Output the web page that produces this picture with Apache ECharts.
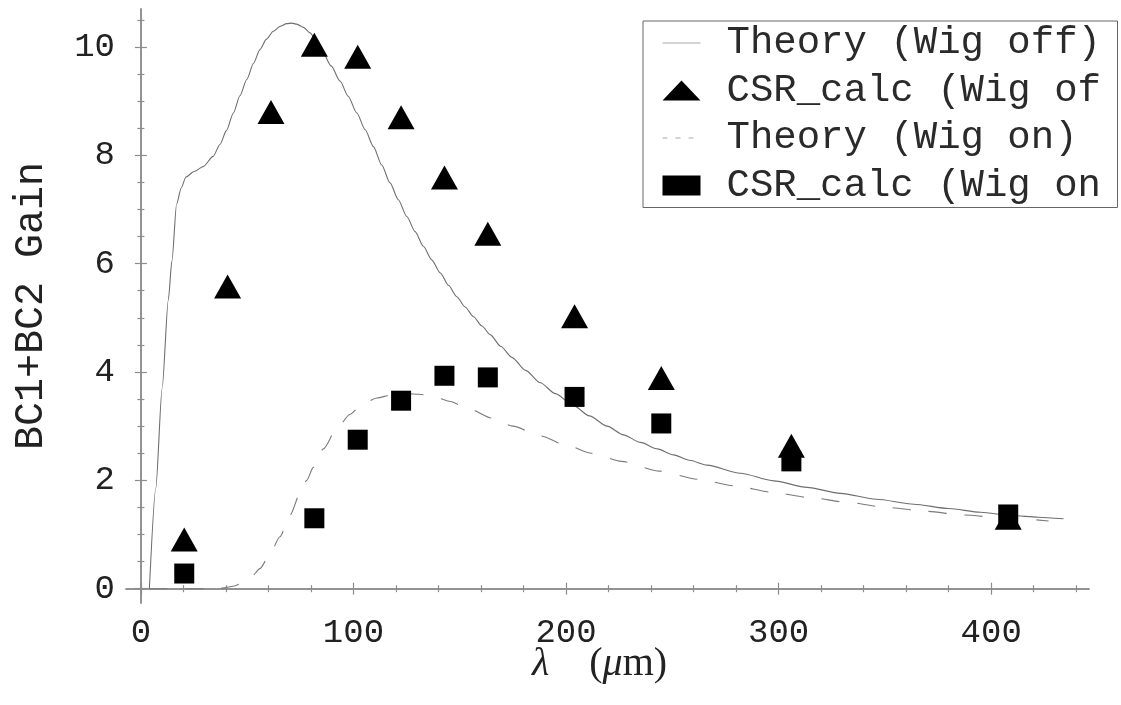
<!DOCTYPE html>
<html>
<head>
<meta charset="utf-8">
<script src="https://cdn.jsdelivr.net/npm/echarts@6/dist/echarts.min.js"></script>
<style>html,body{margin:0;padding:0;background:#fff}#c{width:1121px;height:705px}</style>
</head>
<body>
<div id="c"></div>
<script>
// ---- data ----
const seriesNames = ['Theory (Wig off)', 'CSR_calc (Wig off)', 'Theory (Wig on)', 'CSR_calc (Wig on)'];
const lambdaPts = [20.4, 40.8, 61.2, 81.6, 102, 122.4, 142.8, 163.2, 204, 244.8, 306, 408];
const csrWigOff = [0.91, 5.58, 8.8, 10.04, 9.82, 8.7, 7.59, 6.55, 5.03, 3.89, 2.64, 1.31];
const lambdaSq = [20.4, 81.6, 102, 122.4, 142.8, 163.2, 204, 244.8, 306, 408];
const csrWigOn = [0.28, 1.3, 2.75, 3.47, 3.93, 3.9, 3.54, 3.05, 2.35, 1.37];
const theoryOff = [[4,0],[7,1.85],[10,3.7],[12.9,5.33],[14.6,6.05],[16.8,7.1],[19,7.4],[21.2,7.6],[25,7.7],[29.3,7.79],[34,7.98],[37.2,8.2],[40.3,8.46],[43.5,8.78],[46.6,9.1],[49.8,9.4],[53,9.7],[56,9.95],[59,10.14],[62.3,10.29],[65.5,10.38],[68.6,10.43],[71,10.44],[73.3,10.42],[76.5,10.36],[79.6,10.26],[82.7,10.1],[85.8,9.88],[89.5,9.65],[93.7,9.37],[97.5,9.09],[101.6,8.78],[105.5,8.47],[109.4,8.16],[113.3,7.82],[117.2,7.49],[121.1,7.18],[125.1,6.87],[129,6.59],[132.9,6.32],[136.8,6.07],[140.8,5.83],[144.7,5.6],[148.6,5.39],[152.5,5.2],[156.5,5.02],[160.4,4.85],[164.3,4.69],[169.4,4.47],[174.5,4.27],[181,4.03],[187.9,3.8],[195,3.6],[203.5,3.38],[211,3.19],[219.3,3.0],[227,2.84],[235,2.7],[243,2.58],[250.6,2.47],[258,2.37],[266.3,2.28],[282,2.13],[297.7,1.99],[313.4,1.87],[329.1,1.76],[346,1.65],[363.6,1.56],[380,1.48],[395,1.41],[410,1.35],[422,1.32],[434,1.29]];
const theoryOn = [[4,0],[10,0],[20,0],[30,0],[36,0],[40,0.02],[44,0.05],[48,0.11],[52,0.22],[56,0.37],[60.5,0.62],[65.4,0.96],[70.2,1.36],[74.9,1.76],[78,2.0],[81.1,2.24],[85.8,2.58],[92.1,2.95],[98.4,3.22],[104,3.4],[111,3.52],[118,3.58],[125,3.6],[131,3.59],[137.6,3.55],[145,3.46],[155,3.31],[165,3.15],[175,3.0],[188,2.82],[200,2.65],[212,2.5],[226,2.35],[244,2.17],[262,2.02],[279,1.9],[297,1.78],[315,1.68],[333,1.59],[351,1.5],[369,1.43],[387,1.36],[405,1.31],[427,1.25]];
const xMajorTicks = [0, 100, 200, 300, 400];
const xMinorTicks = [20, 40, 60, 80, 120, 140, 160, 180, 220, 240, 260, 280, 320, 340, 360, 380, 420, 440];
const yMajorTicks = [0, 2, 4, 6, 8, 10];
const yMinorTicks = [0.5, 1, 1.5, 2.5, 3, 3.5, 4.5, 5, 5.5, 6.5, 7, 7.5, 8.5, 9, 9.5, 10.5];
const xName = '{i|λ}    ({i|μ}m)';
const yName = 'BC1+BC2 Gain';

// ---- layout ----
const X_MIN = -7, X_MAX = 446, Y_MIN = -0.264, Y_MAX = 10.70;
const gridRect = { left: 126, top: 9, width: 963, height: 594 };
const frameColor = '#8c8c8c';
const monoFont = 'Liberation Mono';

function xAx(gi, pos, ticks, len, showLine, showLabel) {
  const a = {
    type: 'value', gridIndex: gi, position: pos, min: X_MIN, max: X_MAX,
    axisLine: { show: showLine, lineStyle: { color: frameColor, width: 1.5 } },
    axisTick: { show: true, inside: true, length: len, customValues: ticks, lineStyle: { color: frameColor, width: 1.2 } },
    axisLabel: { show: showLabel, customValues: ticks, margin: 13, fontFamily: monoFont, fontSize: 34, color: '#222' },
    splitLine: { show: false }
  };
  if (showLabel) {
    a.name = xName; a.nameLocation = 'middle'; a.nameGap = 41; a.nameMoveOverlap = false;
    a.nameTextStyle = { fontFamily: 'Liberation Serif', fontSize: 40, color: '#222', padding: [0, 16, 0, 0],
      rich: { i: { fontFamily: 'Liberation Serif', fontSize: 40, fontStyle: 'italic', color: '#222' } } };
  }
  return a;
}
function yAx(gi, pos, ticks, len, showLine, showLabel) {
  const a = {
    type: 'value', gridIndex: gi, position: pos, min: Y_MIN, max: Y_MAX,
    axisLine: { show: showLine, lineStyle: { color: frameColor, width: 1.5 } },
    axisTick: { show: true, inside: true, length: len, customValues: ticks, lineStyle: { color: frameColor, width: 1.2 } },
    axisLabel: { show: showLabel, customValues: ticks, margin: 11, fontFamily: monoFont, fontSize: 34, color: '#222' },
    splitLine: { show: false }
  };
  if (showLabel) {
    a.name = yName; a.nameLocation = 'middle'; a.nameGap = 75;
    a.nameTextStyle = { fontFamily: monoFont, fontSize: 40, color: '#222' };
  }
  return a;
}

const chart = echarts.init(document.getElementById('c'), null, { renderer: 'canvas' });
const hiddenSym = { color: 'rgba(0,0,0,0)', borderWidth: 0, opacity: 0 };
chart.setOption({
  backgroundColor: '#fff',
  animation: false,
  grid: [0, 1, 2, 3].map(() => Object.assign({ containLabel: false }, gridRect)),
  xAxis: [
    xAx(0, 'bottom', xMajorTicks, 6, true, true),
    xAx(1, 'bottom', xMinorTicks, 3.5, false, false),
    xAx(2, 'top', xMajorTicks, 6, true, false),
    xAx(3, 'top', xMinorTicks, 3.5, false, false)
  ],
  yAxis: [
    yAx(0, 'left', yMajorTicks, 6, true, true),
    yAx(1, 'left', yMinorTicks, 3.5, false, false),
    yAx(2, 'right', yMajorTicks, 6, true, false),
    yAx(3, 'right', yMinorTicks, 3.5, false, false)
  ],
  legend: {
    orient: 'vertical', left: 643, top: 21,
    padding: [2, 11, 2, 19], itemGap: 7.5, itemWidth: 38, itemHeight: 20,
    backgroundColor: '#fff', borderColor: '#666', borderWidth: 1,
    textStyle: { fontFamily: monoFont, fontSize: 39, color: '#2a2a2a', lineHeight: 40,
      padding: [0, 0, 0, 21], width: 380, overflow: 'truncate', ellipsis: '' },
    data: [
      { name: seriesNames[0], itemStyle: hiddenSym, lineStyle: { color: '#aaa', width: 1 } },
      { name: seriesNames[1] },
      { name: seriesNames[2], itemStyle: hiddenSym, lineStyle: { color: '#aaa', width: 1, type: [5, 8] } },
      { name: seriesNames[3] }
    ]
  },
  series: [
    { name: seriesNames[0], type: 'line', xAxisIndex: 0, yAxisIndex: 0, data: theoryOff,
      showSymbol: false, symbol: 'none', smooth: 0.25, smoothMonotone: 'x',
      lineStyle: { color: '#6e6e6e', width: 1.1 }, itemStyle: { color: '#6e6e6e' }, z: 2 },
    { name: seriesNames[1], type: 'scatter', xAxisIndex: 0, yAxisIndex: 0,
      data: lambdaPts.map((x, i) => [x, csrWigOff[i]]),
      symbol: 'triangle', symbolSize: [27, 24], itemStyle: { color: '#000', opacity: 1 }, z: 3 },
    { name: seriesNames[2], type: 'line', xAxisIndex: 0, yAxisIndex: 0, data: theoryOn,
      showSymbol: false, symbol: 'none', smooth: 0.25, smoothMonotone: 'x',
      lineStyle: { color: '#7a7a7a', width: 1.1, type: [18, 18] }, itemStyle: { color: '#7a7a7a' }, z: 2 },
    { name: seriesNames[3], type: 'scatter', xAxisIndex: 0, yAxisIndex: 0,
      data: lambdaSq.map((x, i) => [x, csrWigOn[i]]),
      symbol: 'rect', symbolSize: 20, itemStyle: { color: '#000', opacity: 1 }, z: 3 }
  ]
});
</script>
</body>
</html>
